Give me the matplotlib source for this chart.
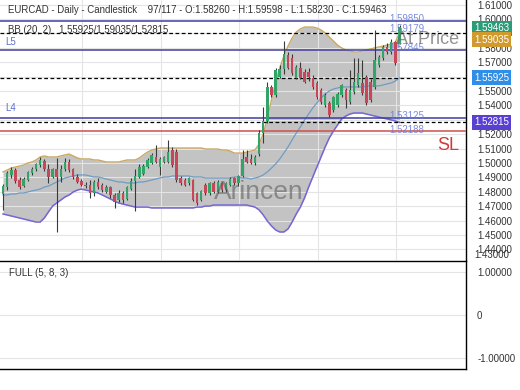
import matplotlib.pyplot as plt
import numpy as np

plt.rcParams['font.family'] = ['Liberation Sans', 'DejaVu Sans']

# OHLC des 97 bougies affichées
opens = [1.4782, 1.4830, 1.4915, 1.4950, 1.4880, 1.4840, 1.4885, 1.4930, 1.4955, 1.4985,
         1.5015, 1.4960, 1.4905, 1.4960, 1.4900, 1.4955, 1.5010, 1.4955, 1.4905, 1.4875,
         1.4850, 1.4850, 1.4790, 1.4870, 1.4845, 1.4800, 1.4830, 1.4780, 1.4740, 1.4795,
         1.4750, 1.4820, 1.4875, 1.4905, 1.4925, 1.4975, 1.5000, 1.5042, 1.4975, 1.5010,
         1.5010, 1.5090, 1.5076, 1.4895, 1.4880, 1.4860, 1.4882, 1.4790, 1.4740, 1.4850,
         1.4790, 1.4860, 1.4800, 1.4860, 1.4810, 1.4850, 1.4895, 1.4860, 1.4910, 1.5040,
         1.5030, 1.5000, 1.5060, 1.5210, 1.5290, 1.5530, 1.5470, 1.5600, 1.5650, 1.5750,
         1.5730, 1.5590, 1.5660, 1.5630, 1.5630, 1.5590, 1.5555, 1.5510, 1.5403, 1.5417,
         1.5368, 1.5400, 1.5472, 1.5507, 1.5424, 1.5493, 1.5542, 1.5556, 1.5597, 1.5563,
         1.5528, 1.5680, 1.5729, 1.5806, 1.5771, 1.5840, 1.58260]
highs = [1.4855, 1.4945, 1.4975, 1.4965, 1.4900, 1.4900, 1.4945, 1.4970, 1.5000, 1.5042,
         1.5030, 1.4995, 1.4965, 1.5035, 1.4985, 1.5035, 1.5030, 1.4965, 1.4925, 1.4890,
         1.4870, 1.4880, 1.4880, 1.4895, 1.4860, 1.4845, 1.4840, 1.4790, 1.4810, 1.4805,
         1.4840, 1.4895, 1.4960, 1.4990, 1.4995, 1.5035, 1.5070, 1.5125, 1.5040, 1.5050,
         1.5160, 1.5110, 1.5100, 1.4910, 1.4895, 1.4905, 1.4890, 1.4800, 1.4815, 1.4860,
         1.4870, 1.4875, 1.4880, 1.4870, 1.4870, 1.4900, 1.4905, 1.4920, 1.5090, 1.5090,
         1.5060, 1.5055, 1.5230, 1.5390, 1.5560, 1.5545, 1.5660, 1.5680, 1.5847, 1.5770,
         1.5760, 1.5680, 1.5700, 1.5650, 1.5660, 1.5610, 1.5570, 1.5520, 1.5485, 1.5430,
         1.5465, 1.5490, 1.5550, 1.5520, 1.5646, 1.5730, 1.5730, 1.5715, 1.5610, 1.5580,
         1.5924, 1.5750, 1.5820, 1.5830, 1.5860, 1.5850, 1.59598]
lows = [1.4674, 1.4815, 1.4895, 1.4860, 1.4820, 1.4830, 1.4875, 1.4920, 1.4945, 1.4975,
        1.4945, 1.4860, 1.4895, 1.4521, 1.4870, 1.4945, 1.4935, 1.4890, 1.4860, 1.4840,
        1.4825, 1.4760, 1.4770, 1.4820, 1.4800, 1.4790, 1.4760, 1.4690, 1.4730, 1.4720,
        1.4740, 1.4810, 1.4670, 1.4895, 1.4915, 1.4965, 1.4990, 1.5000, 1.4917, 1.5000,
        1.5000, 1.4975, 1.4870, 1.4850, 1.4840, 1.4850, 1.4735, 1.4710, 1.4735, 1.4780,
        1.4780, 1.4790, 1.4795, 1.4800, 1.4800, 1.4840, 1.4850, 1.4840, 1.4900, 1.5000,
        1.4990, 1.4985, 1.5050, 1.5140, 1.5280, 1.5460, 1.5460, 1.5590, 1.5620, 1.5650,
        1.5610, 1.5580, 1.5580, 1.5555, 1.5570, 1.5515, 1.5445, 1.5410, 1.5390, 1.5320,
        1.5355, 1.5390, 1.5460, 1.5380, 1.5410, 1.5480, 1.5530, 1.5470, 1.5400, 1.5425,
        1.5515, 1.5670, 1.5715, 1.5760, 1.5760, 1.5680, 1.58230]
closes = [1.4840, 1.4930, 1.4950, 1.4875, 1.4835, 1.4890, 1.4935, 1.4960, 1.4990, 1.5020,
          1.4960, 1.4900, 1.4955, 1.4905, 1.4960, 1.5010, 1.4950, 1.4900, 1.4870, 1.4850,
          1.4840, 1.4790, 1.4870, 1.4835, 1.4810, 1.4830, 1.4775, 1.4730, 1.4795, 1.4745,
          1.4830, 1.4875, 1.4910, 1.4975, 1.4980, 1.5021, 1.5056, 1.5010, 1.5030, 1.5042,
          1.5076, 1.4986, 1.4882, 1.4860, 1.4850, 1.4895, 1.4745, 1.4720, 1.4805, 1.4790,
          1.4860, 1.4800, 1.4870, 1.4810, 1.4860, 1.4890, 1.4860, 1.4910, 1.5030, 1.5010,
          1.5000, 1.5040, 1.5208, 1.5290, 1.5530, 1.5470, 1.5646, 1.5650, 1.5760, 1.5660,
          1.5625, 1.5665, 1.5590, 1.5565, 1.5600, 1.5528, 1.5458, 1.5425, 1.5472, 1.5333,
          1.5458, 1.5480, 1.5542, 1.5437, 1.5507, 1.5563, 1.5625, 1.5486, 1.5417, 1.5438,
          1.5715, 1.5736, 1.5806, 1.5770, 1.5840, 1.5694, 1.59463]

# Bandes de Bollinger (20, 2)
bb_upper = [1.4938, 1.4951, 1.4965, 1.4972, 1.4979, 1.4986, 1.5000, 1.5007, 1.5021, 1.5042,
            1.5049, 1.5042, 1.5042, 1.5042, 1.5049, 1.5056, 1.5062, 1.5049, 1.5035, 1.5028,
            1.5028, 1.5028, 1.5021, 1.5021, 1.5014, 1.5007, 1.5007, 1.5007, 1.5007, 1.5014,
            1.5021, 1.5021, 1.5021, 1.5035, 1.5056, 1.5076, 1.5090, 1.5097, 1.5104, 1.5104,
            1.5104, 1.5104, 1.5104, 1.5104, 1.5104, 1.5104, 1.5104, 1.5104, 1.5104, 1.5097,
            1.5097, 1.5097, 1.5097, 1.5090, 1.5090, 1.5083, 1.5069, 1.5069, 1.5069, 1.5076,
            1.5083, 1.5090, 1.5132, 1.5201, 1.5312, 1.5437, 1.5562, 1.5660, 1.5743, 1.5812,
            1.5868, 1.5910, 1.5931, 1.5944, 1.5944, 1.5944, 1.5937, 1.5924, 1.5903, 1.5875,
            1.5847, 1.5819, 1.5799, 1.5785, 1.5778, 1.5771, 1.5771, 1.5778, 1.5785, 1.5792,
            1.5799, 1.5806, 1.5812, 1.5819, 1.5826, 1.5840, 1.59035]
bb_mid = [1.4778, 1.4778, 1.4785, 1.4785, 1.4792, 1.4792, 1.4799, 1.4806, 1.4812, 1.4819,
          1.4833, 1.4840, 1.4854, 1.4868, 1.4882, 1.4896, 1.4903, 1.4910, 1.4917, 1.4917,
          1.4917, 1.4910, 1.4903, 1.4903, 1.4896, 1.4889, 1.4882, 1.4875, 1.4868, 1.4868,
          1.4861, 1.4861, 1.4861, 1.4868, 1.4868, 1.4875, 1.4882, 1.4889, 1.4896, 1.4903,
          1.4903, 1.4910, 1.4910, 1.4910, 1.4910, 1.4910, 1.4903, 1.4903, 1.4903, 1.4896,
          1.4896, 1.4896, 1.4896, 1.4896, 1.4896, 1.4896, 1.4903, 1.4903, 1.4896, 1.4896,
          1.4889, 1.4896, 1.4903, 1.4917, 1.4938, 1.4965, 1.4993, 1.5028, 1.5069, 1.5111,
          1.5160, 1.5208, 1.5250, 1.5298, 1.5340, 1.5382, 1.5417, 1.5451, 1.5479, 1.5500,
          1.5514, 1.5521, 1.5528, 1.5528, 1.5528, 1.5528, 1.5528, 1.5528, 1.5535, 1.5535,
          1.5535, 1.5535, 1.5542, 1.5549, 1.5556, 1.5569, 1.55925]
bb_lower = [1.4646, 1.4639, 1.4632, 1.4625, 1.4618, 1.4611, 1.4604, 1.4597, 1.4590, 1.4590,
            1.4618, 1.4660, 1.4701, 1.4722, 1.4743, 1.4764, 1.4778, 1.4799, 1.4812, 1.4819,
            1.4812, 1.4806, 1.4799, 1.4792, 1.4778, 1.4764, 1.4750, 1.4736, 1.4722, 1.4715,
            1.4708, 1.4701, 1.4694, 1.4694, 1.4694, 1.4694, 1.4688, 1.4688, 1.4688, 1.4688,
            1.4688, 1.4688, 1.4688, 1.4688, 1.4688, 1.4688, 1.4688, 1.4694, 1.4694, 1.4701,
            1.4701, 1.4708, 1.4708, 1.4708, 1.4708, 1.4708, 1.4708, 1.4708, 1.4708, 1.4708,
            1.4701, 1.4694, 1.4674, 1.4639, 1.4597, 1.4563, 1.4535, 1.4521, 1.4521, 1.4542,
            1.4590, 1.4646, 1.4694, 1.4757, 1.4833, 1.4903, 1.4972, 1.5042, 1.5111, 1.5174,
            1.5222, 1.5264, 1.5306, 1.5326, 1.5340, 1.5347, 1.5347, 1.5347, 1.5340, 1.5333,
            1.5326, 1.5319, 1.5312, 1.5306, 1.5299, 1.5292, 1.52815]

# Niveaux horizontaux
lvl_solid = [1.59850, 1.57845, 1.53125]
lvl_dashed = [1.59035, 1.55925, 1.52815]
lvl_sl = 1.52188
lvl_labels = [(1.59850, "1.59850"), (1.59179, "1.59179"), (1.57845, "1.57845"),
              (1.53125, "1.53125"), (1.52188, "1.52188")]
price_ticks = [1.44, 1.45, 1.46, 1.47, 1.48, 1.49, 1.50, 1.51, 1.52, 1.53, 1.54,
               1.55, 1.56, 1.57, 1.58, 1.59, 1.60, 1.61]
hidden_ticks = [1.53, 1.56, 1.59]   # cachés par les étiquettes de prix
boxes = [(1.59463, 1.5935, "#2a9d78"), (1.59035, 1.5855, "#d19a2c"),
         (1.55925, 1.55925, "#2f8fe8"), (1.52815, 1.52815, "#5a3fd3")]

title = "EURCAD - Daily - Candlestick    97/117 - O:1.58260 - H:1.59598 - L:1.58230 - C:1.59463"
bb_text = "BB (20, 2)   1.55925/1.59035/1.52815"

x = np.arange(len(closes))
o = np.array(opens); c = np.array(closes)
h = np.array(highs); l = np.array(lows)
up = c >= o

fig = plt.figure(figsize=(5.2, 3.9), dpi=100)
ax = fig.add_axes([0, 1 - 260 / 390, 466 / 520, 260 / 390])
ax2 = fig.add_axes([0, 1 - 369 / 390, 466 / 520, 108 / 390])

ax.set_xlim(-0.73, 112.1)
ax.set_ylim(1.43264, 1.61319)

# grille
ax.set_yticks(price_ticks)
ax.set_yticklabels(["" if any(abs(t - hd) < 1e-9 for hd in hidden_ticks) else f"{t:.5f}"
                    for t in price_ticks])
ax.set_xticks([19.1, 38.3, 57.1, 76.3, 95.2])
ax.set_xticklabels([])
ax.grid(True, color="#e4e4e4", lw=0.8, zorder=0)
ax.yaxis.tick_right()
ax.tick_params(axis="y", length=0, pad=8, labelsize=7, labelcolor="#333333")
ax.tick_params(axis="x", length=0)
for s in ["top", "left", "bottom"]:
    ax.spines[s].set_visible(False)
ax.spines["right"].set_color("black")
ax.spines["right"].set_linewidth(1.0)
ax.text(1.0 + 8 / 466, 1.43264, "1.43000", transform=ax.get_yaxis_transform(),
        fontsize=7, color="#333333", va="bottom", ha="left")

# Bollinger
ax.fill_between(x, bb_lower, bb_upper, color="#bdbdbd", alpha=0.9, zorder=1, lw=0)
ax.plot(x, bb_upper, color="#c9a862", lw=1.0, zorder=2)
ax.plot(x, bb_mid, color="#6f9cc4", lw=0.9, zorder=2)
ax.plot(x, bb_lower, color="#7466d6", lw=1.1, zorder=2)

# niveaux
for v in lvl_solid:
    ax.axhline(v, color="#3f3f9e", lw=1.1, zorder=3)
for v in lvl_dashed:
    ax.axhline(v, color="black", lw=0.9, ls=(0, (3, 2)), zorder=3)
ax.axhline(lvl_sl, color="#d05050", lw=1.1, zorder=3)
for v, lab in lvl_labels:
    ax.text(93.5, v + 0.0012, lab, fontsize=7, color="#6478d8", alpha=0.85,
            va="center", ha="left", zorder=6)

# bougies
ax.vlines(x, l, h, color="#3a3a3a", lw=0.8, zorder=4)
body = np.where(np.abs(c - o) < 0.0003, 0.0003, c - o)
ax.bar(x, body, bottom=o, width=0.6, color=np.where(up, "#33a468", "#c64858"),
       lw=0, zorder=5)

# textes
ax.text(8 / 466, 1 - 10 / 260, title, transform=ax.transAxes, fontsize=6.9,
        color="#333333", va="center", ha="left")
ax.text(8 / 466, 1 - 30 / 260, bb_text, transform=ax.transAxes, fontsize=6.9,
        color="#333333", va="center", ha="left", zorder=6)
ax.text(5 / 466, 1 - 42 / 260, "L5", transform=ax.transAxes, fontsize=7,
        color="#5a6fd0", va="center")
ax.text(5 / 466, 1 - 108 / 260, "L4", transform=ax.transAxes, fontsize=7,
        color="#5a6fd0", va="center")
ax.text(0.985, 1 - 146 / 260, "SL", transform=ax.transAxes, fontsize=13,
        color="#d03a3a", va="center", ha="right")
ax.text(0.985, 1 - 40 / 260, "At Price", transform=ax.transAxes, fontsize=13,
        color="#666666", alpha=0.7, va="center", ha="right", zorder=6)
ax.text(0.555, 1 - 192 / 260, "Arincen", transform=ax.transAxes, fontsize=19,
        color="#555555", alpha=0.55, va="center", ha="center", zorder=6)

# étiquettes de prix à droite
for v, ypos, col in boxes:
    ax.text(1.0 + 8 / 466, ypos, f"{v:.5f}", transform=ax.get_yaxis_transform(),
            fontsize=7, color="white", va="center", ha="left", zorder=10,
            clip_on=False,
            bbox=dict(boxstyle="square,pad=0.25", fc=col, ec="none"))

# panneau du bas
ax2.set_xlim(-0.73, 112.1)
ax2.set_ylim(-1.26, 1.26)
ax2.set_yticks([1, 0, -1])
ax2.set_yticklabels(["1.00000", "0", "-1.00000"])
ax2.set_xticks([])
ax2.yaxis.tick_right()
ax2.tick_params(axis="y", length=0, pad=8, labelsize=7, labelcolor="#333333")
ax2.grid(True, axis="y", color="#e4e4e4", lw=0.8)
ax2.spines["left"].set_visible(False)
for s in ["top", "right", "bottom"]:
    ax2.spines[s].set_color("black")
    ax2.spines[s].set_linewidth(1.0)
ax2.text(9 / 466, 1 - 12 / 108, "FULL (5, 8, 3)", transform=ax2.transAxes,
         fontsize=7, color="#333333", va="center")

fig.savefig("out.png", dpi=100)
